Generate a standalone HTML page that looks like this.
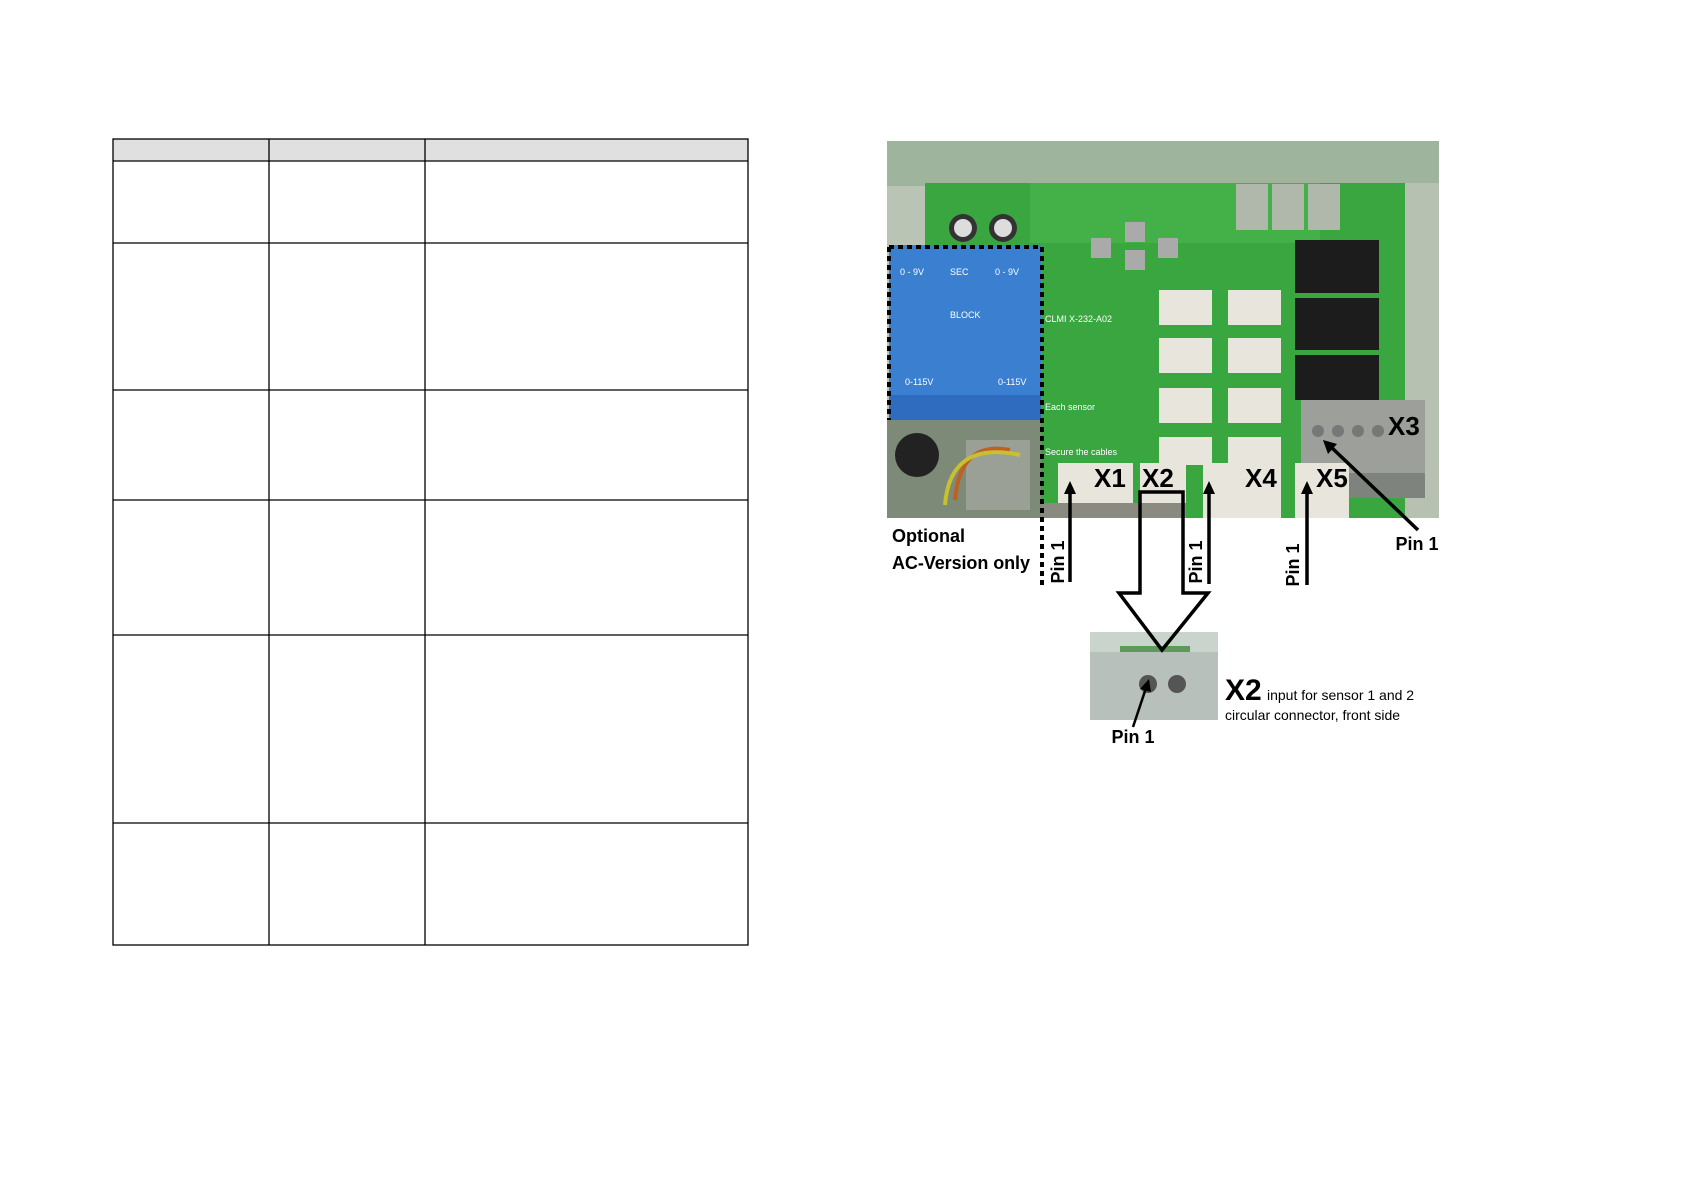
<!DOCTYPE html>
<html><head><meta charset="utf-8"><style>
html,body{margin:0;padding:0;background:#fff}
svg{display:block}
text{font-family:"Liberation Sans",sans-serif}
</style></head><body>
<svg width="1685" height="1191" viewBox="0 0 1685 1191" xmlns="http://www.w3.org/2000/svg">
<rect x="113" y="139" width="635" height="22" fill="#e0e0e0"/>
<g stroke="#000" stroke-width="1.3" fill="none">
<rect x="113" y="139" width="635" height="806"/>
<line x1="269" y1="139" x2="269" y2="945"/>
<line x1="425" y1="139" x2="425" y2="945"/>
<line x1="113" y1="161" x2="748" y2="161"/>
<line x1="113" y1="243" x2="748" y2="243"/>
<line x1="113" y1="390" x2="748" y2="390"/>
<line x1="113" y1="500" x2="748" y2="500"/>
<line x1="113" y1="635" x2="748" y2="635"/>
<line x1="113" y1="823" x2="748" y2="823"/>
</g>
<rect x="887" y="141" width="552" height="377" fill="#b9c4b4"/>
<rect x="887" y="141" width="552" height="45" fill="#9fb49c"/>
<rect x="925" y="183" width="495" height="335" fill="#3aa640"/>
<rect x="1030" y="183" width="290" height="60" fill="#43b048"/>
<rect x="1405" y="183" width="34" height="335" fill="#b7c1b2"/>
<rect x="1236" y="184" width="32" height="46" fill="#b0b8ac"/>
<rect x="1272" y="184" width="32" height="46" fill="#b0b8ac"/>
<rect x="1308" y="184" width="32" height="46" fill="#b0b8ac"/>
<circle cx="963" cy="228" r="14" fill="#333"/><circle cx="963" cy="228" r="9" fill="#ddd"/>
<circle cx="1003" cy="228" r="14" fill="#333"/><circle cx="1003" cy="228" r="9" fill="#ddd"/>
<rect x="1091" y="238" width="20" height="20" fill="#aaa"/><rect x="1125" y="222" width="20" height="20" fill="#aaa"/>
<rect x="1125" y="250" width="20" height="20" fill="#aaa"/><rect x="1158" y="238" width="20" height="20" fill="#aaa"/>
<rect x="889" y="245" width="152" height="175" fill="#3b7fd0"/>
<rect x="889" y="395" width="152" height="25" fill="#2f6cc0"/>
<g fill="#fff" font-size="9"><text x="900" y="275">0 - 9V</text><text x="950" y="275">SEC</text><text x="995" y="275">0 - 9V</text><text x="950" y="318">BLOCK</text><text x="905" y="385">0-115V</text><text x="998" y="385">0-115V</text></g>
<rect x="887" y="420" width="154" height="98" fill="#7e8a78"/>
<circle cx="917" cy="455" r="22" fill="#222"/>
<rect x="966" y="440" width="64" height="70" fill="#9aa095"/>
<path d="M955 500 Q960 440 1010 450" stroke="#c06020" stroke-width="4" fill="none"/>
<path d="M945 505 Q950 440 1020 455" stroke="#c8c030" stroke-width="4" fill="none"/>
<rect x="1295" y="240" width="84" height="53" fill="#1c1c1c"/>
<rect x="1295" y="298" width="84" height="52" fill="#1c1c1c"/>
<rect x="1295" y="355" width="84" height="45" fill="#1c1c1c"/>
<rect x="1301" y="400" width="124" height="73" fill="#9c9f9a"/>
<rect x="1301" y="473" width="124" height="25" fill="#7f837e"/>
<circle cx="1318" cy="431" r="6" fill="#777"/><circle cx="1338" cy="431" r="6" fill="#777"/><circle cx="1358" cy="431" r="6" fill="#777"/><circle cx="1378" cy="431" r="6" fill="#777"/>
<g fill="#e8e6dc">
<rect x="1159" y="290" width="53" height="35"/><rect x="1228" y="290" width="53" height="35"/>
<rect x="1159" y="338" width="53" height="35"/><rect x="1228" y="338" width="53" height="35"/>
<rect x="1159" y="388" width="53" height="35"/><rect x="1228" y="388" width="53" height="35"/>
<rect x="1159" y="437" width="53" height="28"/><rect x="1228" y="437" width="53" height="28"/>
<rect x="1058" y="463" width="75" height="40"/><rect x="1140" y="463" width="46" height="40"/>
<rect x="1203" y="463" width="78" height="55"/><rect x="1295" y="463" width="54" height="55"/>
</g>
<rect x="1041" y="503" width="145" height="15" fill="#8a8a80"/>
<g fill="#fff" font-size="9" font-family="Liberation Mono,monospace">
<text x="1045" y="322">CLMI X-232-A02</text><text x="1045" y="410">Each sensor</text><text x="1045" y="455">Secure the cables</text>
</g>
<path d="M889 247 H1042 V587" stroke="#000" stroke-width="4" stroke-dasharray="5 4" fill="none"/>
<path d="M889 247 V420" stroke="#000" stroke-width="4" stroke-dasharray="5 4" fill="none"/>
<g font-weight="bold" font-size="26" fill="#000">
<text x="1094" y="487">X1</text><text x="1142" y="487">X2</text><text x="1245" y="487">X4</text><text x="1316" y="487">X5</text><text x="1388" y="435">X3</text>
</g>
<g font-weight="bold" font-size="18" fill="#000">
<text x="892" y="542">Optional</text><text x="892" y="569" textLength="138">AC-Version only</text>
<text x="1417" y="550" text-anchor="middle">Pin 1</text>
<text transform="translate(1064 562) rotate(-90)" text-anchor="middle">Pin 1</text>
<text transform="translate(1202 562) rotate(-90)" text-anchor="middle">Pin 1</text>
<text transform="translate(1299 565) rotate(-90)" text-anchor="middle">Pin 1</text>
</g>
<g stroke="#000" stroke-width="3.5">
<line x1="1070" y1="582" x2="1070" y2="490"/>
<line x1="1209" y1="584" x2="1209" y2="490"/>
<line x1="1307" y1="585" x2="1307" y2="490"/>
<line x1="1418" y1="530" x2="1330" y2="446"/>
</g>
<g fill="#000">
<polygon points="1070,481 1064,494 1076,494"/>
<polygon points="1209,481 1203,494 1215,494"/>
<polygon points="1307,481 1301,494 1313,494"/>
<polygon points="1323,440 1337,444 1328,454"/>
</g>
<rect x="1090" y="632" width="128" height="88" fill="#b8c0bc"/>
<rect x="1090" y="632" width="128" height="20" fill="#c8d4cc"/>
<rect x="1120" y="646" width="70" height="6" fill="#5b9a58"/>
<circle cx="1148" cy="684" r="9" fill="#555"/><circle cx="1177" cy="684" r="9" fill="#555"/>
<line x1="1133" y1="727" x2="1146" y2="688" stroke="#000" stroke-width="2.5"/>
<polygon points="1149,679 1140,689 1151,692" fill="#000"/>
<text x="1133" y="743" text-anchor="middle" font-size="18" font-weight="bold">Pin 1</text>
<polygon points="1140,492 1183,492 1183,593 1208,593 1162,650 1119,593 1140,593" fill="none" stroke="#000" stroke-width="3.5" stroke-linejoin="miter"/>
<text x="1225" y="700" font-weight="bold" font-size="30">X2</text>
<text x="1267" y="700" font-size="14">input for sensor 1 and 2</text>
<text x="1225" y="720" font-size="14">circular connector, front side</text>
</svg>
</body></html>
